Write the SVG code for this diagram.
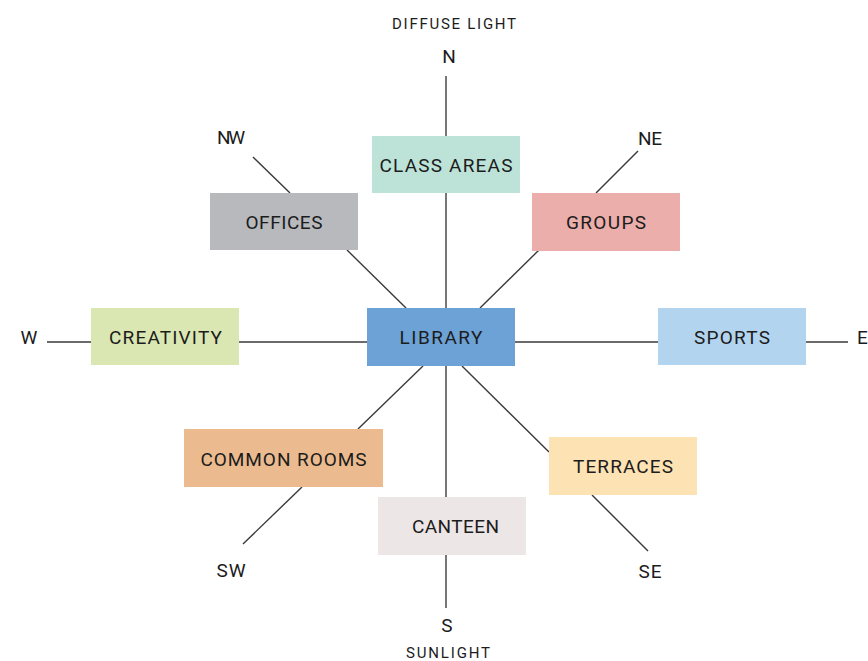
<svg xmlns="http://www.w3.org/2000/svg" width="868" height="661" viewBox="0 0 868 661">
<style>
.bg{fill:#ffffff}
.ln{stroke:#3a3a3a;stroke-width:1.4;fill:none}
.vl{stroke:#555555;stroke-width:1.6;fill:none}
.lbl{font-family:Roboto,"Liberation Sans",sans-serif;font-size:19px;fill:#1c1c1c;text-anchor:middle}
.dir{font-family:Roboto,"Liberation Sans",sans-serif;font-size:19px;fill:#1c1c1c;text-anchor:middle}
.cap{font-family:Roboto,"Liberation Sans",sans-serif;font-size:15px;fill:#1c1c1c;text-anchor:middle}
</style>
<rect class="bg" x="0" y="0" width="868" height="661"/>
<g id="connectors">
<line class="vl" x1="446" y1="76" x2="446" y2="136"/>
<line class="vl" x1="446" y1="193" x2="446" y2="308"/>
<line class="vl" x1="446" y1="366" x2="446" y2="497"/>
<line class="vl" x1="446" y1="555" x2="446" y2="608"/>
<line class="ln" x1="47" y1="342" x2="91" y2="342"/>
<line class="ln" x1="239" y1="342" x2="367" y2="342"/>
<line class="ln" x1="515" y1="342" x2="658" y2="342"/>
<line class="ln" x1="806" y1="342" x2="848" y2="342"/>
<line class="ln" x1="253" y1="157" x2="290" y2="193"/>
<line class="ln" x1="347" y1="250" x2="406" y2="308"/>
<line class="ln" x1="638" y1="151" x2="596" y2="193"/>
<line class="ln" x1="539" y1="250" x2="480" y2="308"/>
<line class="ln" x1="423" y1="366" x2="358" y2="429"/>
<line class="ln" x1="302" y1="487" x2="243" y2="544"/>
<line class="ln" x1="462" y1="366" x2="549" y2="452"/>
<line class="ln" x1="592" y1="495" x2="648" y2="551"/>
</g>
<g id="labels">
<text class="cap" x="454" y="29" textLength="124" lengthAdjust="spacing">DIFFUSE LIGHT</text>
<text class="dir" x="449" y="63">N</text>
<text class="dir" x="447" y="632">S</text>
<text class="cap" x="448" y="658" textLength="84" lengthAdjust="spacing">SUNLIGHT</text>
<text class="dir" x="231" y="144" textLength="28" lengthAdjust="spacing">NW</text>
<text class="dir" x="650" y="145" textLength="24" lengthAdjust="spacing">NE</text>
<text class="dir" x="231" y="577" textLength="29" lengthAdjust="spacing">SW</text>
<text class="dir" x="650" y="578" textLength="23" lengthAdjust="spacing">SE</text>
<text class="dir" x="29" y="344">W</text>
<text class="dir" x="857" y="344" style="text-anchor:start">E</text>
</g>
<g id="node-class-areas">
<rect x="372" y="136" width="148" height="57" fill="#bde3d8"/>
<text class="lbl" x="446" y="172" textLength="133" lengthAdjust="spacing">CLASS AREAS</text>
</g>
<g id="node-offices">
<rect x="210" y="193" width="148" height="57" fill="#b8b9bd"/>
<text class="lbl" x="284" y="229" textLength="77" lengthAdjust="spacing">OFFICES</text>
</g>
<g id="node-groups">
<rect x="532" y="193" width="148" height="58" fill="#ebaeab"/>
<text class="lbl" x="606" y="229" textLength="80" lengthAdjust="spacing">GROUPS</text>
</g>
<g id="node-creativity">
<rect x="91" y="308" width="148" height="57" fill="#dae7b3"/>
<text class="lbl" x="165.5" y="344" textLength="113" lengthAdjust="spacing">CREATIVITY</text>
</g>
<g id="node-library">
<rect x="367" y="308" width="148" height="58" fill="#6ca2d5"/>
<text class="lbl" x="441" y="344" textLength="83" lengthAdjust="spacing">LIBRARY</text>
</g>
<g id="node-sports">
<rect x="658" y="308" width="148" height="57" fill="#b3d4ef"/>
<text class="lbl" x="732" y="344" textLength="76" lengthAdjust="spacing">SPORTS</text>
</g>
<g id="node-common-rooms">
<rect x="184" y="429" width="199" height="58" fill="#ebbb8f"/>
<text class="lbl" x="283.5" y="466" textLength="166" lengthAdjust="spacing">COMMON ROOMS</text>
</g>
<g id="node-terraces">
<rect x="549" y="437" width="148" height="58" fill="#fde2b4"/>
<text class="lbl" x="623" y="473" textLength="100" lengthAdjust="spacing">TERRACES</text>
</g>
<g id="node-canteen">
<rect x="378" y="497" width="148" height="58" fill="#ede6e6"/>
<text class="lbl" x="455.5" y="533" textLength="87" lengthAdjust="spacing">CANTEEN</text>
</g>
</svg>
